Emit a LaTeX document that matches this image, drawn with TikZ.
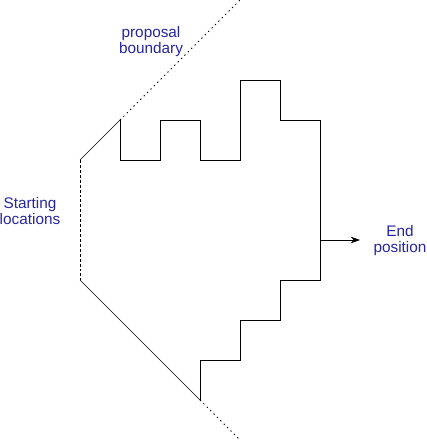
\documentclass[tikz,border=0pt]{standalone}
\usepackage{fontspec}
\setmainfont{Liberation Sans}
\usetikzlibrary{arrows.meta, positioning}
\definecolor{labelblue}{RGB}{38,38,160}

\begin{document}
\begin{tikzpicture}[
  x=0.75pt, y=-0.75pt,
  font=\fontsize{11.5}{12}\selectfont,
  every node/.style={align=center},
  label/.style={text=labelblue, inner sep=0pt},
  wall/.style={semithick, line join=miter},
  start/.style={line width=0.6pt, dash pattern=on 2.2pt off 1.5pt},
  boundary/.style={line width=0.7pt, dash pattern=on 1pt off 2.6pt},
  to/.style={-{Stealth[length=7pt,width=5pt]}, semithick}]

  \useasboundingbox (0,0) rectangle (427,442);

  % Eckpunkte
  \coordinate (top) at (80,160);
  \coordinate (bot) at (80,280);
  \coordinate (ul) at (120,120);
  \coordinate (ll) at (200,400);
  \coordinate (ulend) at (241,-1);
  \coordinate (llend) at (240,440);
  \coordinate (exit) at (320,240);
  \coordinate (tip) at (360,240);

  % Texte
  \node[label] (proposal) at (151,42) {proposal\\boundary};
  \node[label] (starting) at (30,211) {Starting\\locations};
  \node[label] (endpos) at (400,241) {End\\position};

  % Startlinie und Grenze
  \draw[start] (top) -- (bot);
  \draw[thin] (top) -- (ul);
  \draw[thin] (bot) -- (ll);
  \draw[boundary] (ul) -- (ulend);
  \draw[boundary] (ll) -- (llend);

  % Treppe
  \draw[wall] (ul) -- ++(0,40) -- ++(40,0) -- ++(0,-40) -- ++(40,0)
      -- ++(0,40) -- ++(40,0) -- ++(0,-80) -- ++(40,0) -- ++(0,40)
      -- ++(40,0) -- ++(0,160) -- ++(-40,0) -- ++(0,40) -- ++(-40,0)
      -- ++(0,40) -- ++(-40,0) -- (ll);

  % Ende
  \draw[to] (exit) -- (tip);

\end{tikzpicture}
\end{document}
